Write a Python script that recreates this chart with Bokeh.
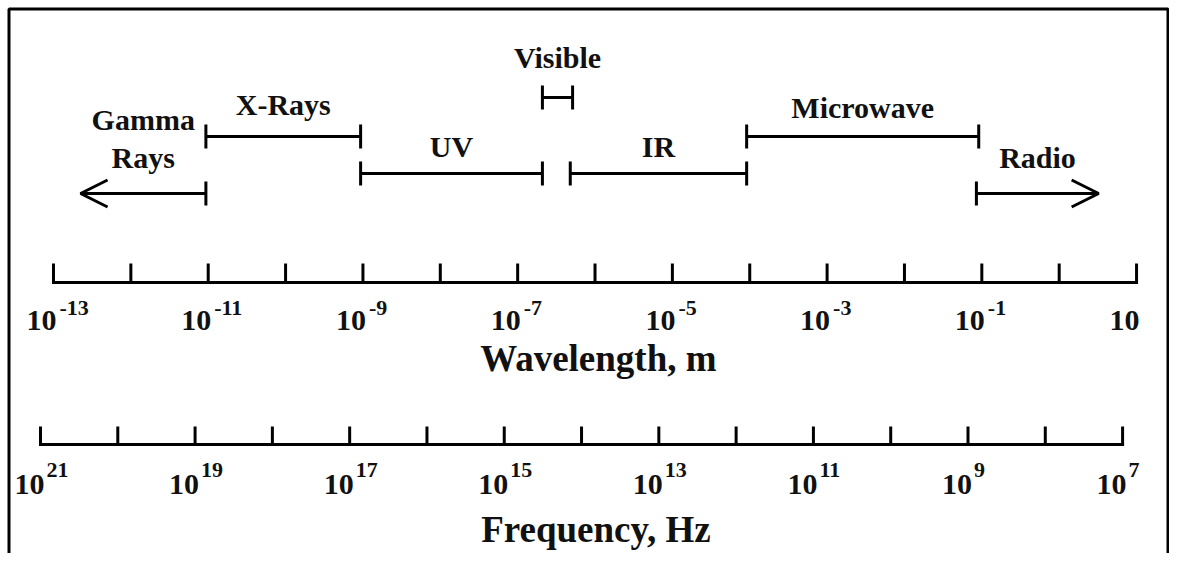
from bokeh.plotting import figure
from bokeh.models import Range1d, ColumnDataSource, Arrow, OpenHead
from bokeh.core.properties import value
from bokeh.embed import file_html
from bokeh.resources import INLINE

# ---------------- data ----------------
# spectral bands, bounds as log10(wavelength / m)
band_names = ["Gamma Rays", "X-Rays", "UV", "Visible", "IR", "Microwave", "Radio"]
band_start = [-12.65, -11.03, -9.03, -6.68, -6.32, -4.04, -1.07]
band_end = [-11.03, -9.03, -6.68, -6.29, -4.04, -1.04, 0.51]
band_open_start = [True, False, False, False, False, False, False]   # arrow to the left
band_open_end = [False, False, False, False, False, False, True]     # arrow to the right

# wavelength axis (log10 m)
wave_ticks = list(range(-13, 2))
wave_label_pos = [-13, -11, -9, -7, -5, -3, -1, 1]
wave_label_base = ["10", "10", "10", "10", "10", "10", "10", "10"]
wave_label_exp = ["-13", "-11", "-9", "-7", "-5", "-3", "-1", ""]

# frequency axis (log10 Hz)
freq_ticks = list(range(21, 6, -1))
freq_label_pos = [21, 19, 17, 15, 13, 11, 9, 7]
freq_label_base = ["10"] * 8
freq_label_exp = ["21", "19", "17", "15", "13", "11", "9", "7"]

wave_title = "Wavelength,  m"
freq_title = "Frequency,  Hz"

# ---------------- layout (screen-like y, px) ----------------
W, H = 1169, 553
band_row_y = [193, 136, 173, 97, 173, 136, 193]
band_label_y = [157, 104, 146, 57, 146, 107, 157]
CAP = 12
WAVE_Y, WAVE_TOP = 282, 263
FREQ_Y, FREQ_TOP = 444, 426
WAVE_LAB_Y, WAVE_EXP_Y = 320, 307
FREQ_LAB_Y, FREQ_EXP_Y = 484, 469
WAVE_TITLE_Y, FREQ_TITLE_Y = 358, 529
LINE_GAP = 38

FONT = value("Liberation Serif")
INK = "#111111"

p = figure(width=W, height=H,
           x_range=Range1d(-13.685, 1.426), y_range=Range1d(H, 0),
           output_backend="svg", toolbar_location=None, min_border=0,
           x_axis_type=None, y_axis_type=None)
p.extra_x_ranges = {"freq": Range1d(21.5175, 6.393), "px": Range1d(0, W)}
p.outline_line_color = None
p.background_fill_color = "white"
p.border_fill_color = "white"

# frame border (open at the bottom, as in the original picture)
p.line(x=[8.5, 8.5, W - 1.5, W - 1.5], y=[H + 5, 8.5, 8.5, H + 5], x_range_name="px",
       line_color="black", line_width=3)

# ---- bands ----
p.segment(x0=band_start, y0=band_row_y, x1=band_end, y1=band_row_y,
          line_color="black", line_width=3)

cap_x, cap_y = [], []
arr = dict(xs=[], xe=[], y=[])
for s, e, y, os_, oe in zip(band_start, band_end, band_row_y, band_open_start, band_open_end):
    if os_:
        arr["xs"].append(e); arr["xe"].append(s); arr["y"].append(y)
    else:
        cap_x.append(s); cap_y.append(y)
    if oe:
        arr["xs"].append(s); arr["xe"].append(e); arr["y"].append(y)
    else:
        cap_x.append(e); cap_y.append(y)

p.segment(x0=cap_x, y0=[y - CAP for y in cap_y], x1=cap_x, y1=[y + CAP for y in cap_y],
          line_color="black", line_width=3)

arrow_src = ColumnDataSource(arr)
p.add_layout(Arrow(end=OpenHead(size=27, line_width=3, line_color="black"),
                   x_start="xs", y_start="y", x_end="xe", y_end="y",
                   source=arrow_src, line_width=3, line_color="black"))

# band labels
lx, ly, lt = [], [], []
for name, s, e, yb in zip(band_names, band_start, band_end, band_label_y):
    parts = name.split(" ") if name == "Gamma Rays" else [name]
    n = len(parts)
    for i, part in enumerate(parts):
        lx.append((s + e) / 2)
        ly.append(yb - (n - 1 - i) * LINE_GAP)
        lt.append(part)
p.text(x=lx, y=ly, text=lt, text_font=FONT, text_font_style="bold",
       text_font_size="30px", text_align="center", text_baseline="alphabetic",
       text_color=INK)

# ---- wavelength axis ----
p.segment(x0=[wave_ticks[0]], y0=[WAVE_Y], x1=[wave_ticks[-1]], y1=[WAVE_Y],
          line_color="black", line_width=3, line_cap="square")
p.segment(x0=wave_ticks, y0=[WAVE_TOP] * len(wave_ticks), x1=wave_ticks,
          y1=[WAVE_Y] * len(wave_ticks), line_color="black", line_width=3)
p.text(x=wave_label_pos, y=[WAVE_LAB_Y] * 8, text=wave_label_base, text_font=FONT,
       text_font_style="bold", text_font_size="30px", text_align="right",
       text_baseline="alphabetic", x_offset=3, text_color=INK)
p.text(x=wave_label_pos, y=[WAVE_EXP_Y] * 8, text=wave_label_exp, text_font=FONT,
       text_font_style="bold", text_font_size="22px", text_align="left",
       text_baseline="alphabetic", x_offset=6, text_color=INK)
p.text(x=[(wave_ticks[0] + wave_ticks[-1]) / 2], y=[WAVE_TITLE_Y], text=[wave_title],
       text_font=FONT, text_font_style="bold", text_font_size="37px",
       text_align="center", text_baseline="alphabetic", x_offset=8, text_color=INK)

# ---- frequency axis ----
p.segment(x0=[freq_ticks[0]], y0=[FREQ_Y], x1=[freq_ticks[-1]], y1=[FREQ_Y],
          line_color="black", line_width=3, line_cap="square", x_range_name="freq")
p.segment(x0=freq_ticks, y0=[FREQ_TOP] * len(freq_ticks), x1=freq_ticks,
          y1=[FREQ_Y] * len(freq_ticks), line_color="black", line_width=3,
          x_range_name="freq")
p.text(x=freq_label_pos, y=[FREQ_LAB_Y] * 8, text=freq_label_base, text_font=FONT,
       text_font_style="bold", text_font_size="30px", text_align="right",
       text_baseline="alphabetic", x_offset=4, text_color=INK, x_range_name="freq")
p.text(x=freq_label_pos, y=[FREQ_EXP_Y] * 8, text=freq_label_exp, text_font=FONT,
       text_font_style="bold", text_font_size="22px", text_align="left",
       text_baseline="alphabetic", x_offset=6, text_color=INK, x_range_name="freq")
p.text(x=[(freq_ticks[0] + freq_ticks[-1]) / 2], y=[FREQ_TITLE_Y], text=[freq_title],
       text_font=FONT, text_font_style="bold", text_font_size="37px",
       text_align="center", text_baseline="alphabetic", x_offset=19, text_color=INK,
       x_range_name="freq")

open("out.html", "w").write(file_html(p, INLINE))
